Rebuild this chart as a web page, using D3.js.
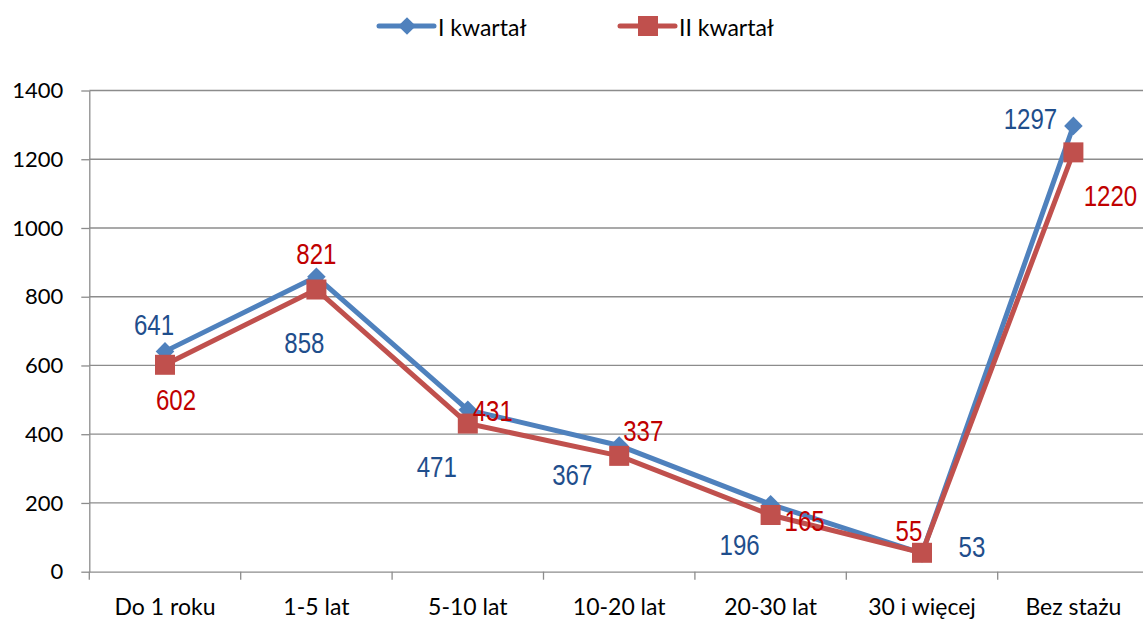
<!DOCTYPE html>
<html><head><meta charset="utf-8">
<script src="https://cdn.jsdelivr.net/npm/d3@7"></script>
<style>body{margin:0;background:#fff;} svg{display:block;}</style>
</head><body>
<svg id="chart" width="1143" height="619"></svg>
<script>
const categories = ["Do 1 roku","1-5 lat","5-10 lat","10-20 lat","20-30 lat","30 i więcej","Bez stażu"];
const seriesNames = ["I kwartał","II kwartał"];
const q1 = [641, 858, 471, 367, 196, 53, 1297];
const q2 = [602, 821, 431, 337, 165, 55, 1220];
const yTicks = [0,200,400,600,800,1000,1200,1400];
// label offsets (px) relative to point
const q1LabelOff = [[-11,-26],[-12,66],[-31,57],[-47,30],[-31,41],[50,-6],[-43,-7]];
const q2LabelOff = [[11,35],[0,-35],[25,-12],[24,-25],[34,6],[-13,-22],[37,44]];

(function(){
const svg = d3.select("#chart");
const pLeft = 89.3, pRight = 89.3 + 7*151.4, pTop = 90.5, pBottom = 571.7;
const x = d3.scaleBand().domain(categories).range([pLeft, pRight]).padding(0);
const y = d3.scaleLinear().domain([0,1400]).range([pBottom, pTop]);
const cx = c => x(c) + x.bandwidth()/2;
const font = "Lato, 'Open Sans', sans-serif";
const lblFont = "'Liberation Sans', Arial, sans-serif";

svg.append("g").selectAll("line").data(yTicks.filter(d=>d>0)).join("line")
  .attr("x1", pLeft).attr("x2", 1143).attr("y1", d=>y(d)).attr("y2", d=>y(d))
  .attr("stroke", "#8c8c8c").attr("stroke-width", 1.3);

const yAxis = svg.append("g").attr("transform", `translate(${pLeft},0)`)
  .call(d3.axisLeft(y).tickValues(yTicks).tickFormat(d3.format("d")).tickSize(8).tickPadding(18).tickSizeOuter(0));
yAxis.select(".domain").attr("stroke", "#8c8c8c").attr("stroke-width", 1.3);
yAxis.selectAll(".tick line").attr("stroke", "#8c8c8c").attr("stroke-width", 1.3);
yAxis.selectAll("text").attr("font-family", font).attr("font-size", 22).attr("fill", "#000");

const xAxis = svg.append("g").attr("transform", `translate(0,${pBottom})`)
  .call(d3.axisBottom(x).tickSize(0).tickPadding(27));
xAxis.select(".domain").attr("stroke", "#8c8c8c").attr("stroke-width", 1.3);
xAxis.selectAll("text").attr("font-family", font).attr("font-size", 23).attr("fill", "#000");
svg.append("g").selectAll("line").data(d3.range(categories.length+1)).join("line")
  .attr("x1", i=>pLeft + i*x.bandwidth()).attr("x2", i=>pLeft + i*x.bandwidth())
  .attr("y1", pBottom).attr("y2", pBottom+8)
  .attr("stroke", "#8c8c8c").attr("stroke-width", 1.3);

const line = d3.line().x((d,i)=>cx(categories[i])).y(d=>y(d));
const blue = "#4F81BD", red = "#C0504D";

svg.append("path").datum(q1).attr("d", line).attr("fill","none")
  .attr("stroke", blue).attr("stroke-width", 5).attr("stroke-linejoin","round");
svg.append("g").selectAll("path").data(q1).join("path")
  .attr("d", d3.symbol(d3.symbolDiamond2, 220)())
  .attr("transform", (d,i)=>`translate(${cx(categories[i])},${y(d)})`)
  .attr("fill", blue);

svg.append("path").datum(q2).attr("d", line).attr("fill","none")
  .attr("stroke", red).attr("stroke-width", 5).attr("stroke-linejoin","round");
svg.append("g").selectAll("rect").data(q2).join("rect")
  .attr("x", (d,i)=>cx(categories[i])-10).attr("y", d=>y(d)-10)
  .attr("width", 20).attr("height", 20).attr("fill", red);

function labels(data, off, color) {
  svg.append("g").selectAll("text").data(data).join("text")
    .attr("transform", (d,i)=>`translate(${cx(categories[i]) + off[i][0]},${y(d) + off[i][1]}) scale(0.83,1)`)
    .attr("text-anchor","middle").attr("dominant-baseline","central")
    .attr("font-family", lblFont).attr("font-size", 29).attr("fill", color)
    .text(d=>d);
}
labels(q1, q1LabelOff, "#1F4E8C");
labels(q2, q2LabelOff, "#C00000");

const legend = svg.append("g");
const legItems = [{name: seriesNames[0], color: blue, x0: 379, shape: "diamond"},
                  {name: seriesNames[1], color: red, x0: 620, shape: "square"}];
legItems.forEach(it => {
  const g = legend.append("g");
  g.append("line").attr("x1", it.x0).attr("x2", it.x0+55).attr("y1", 26).attr("y2", 26)
    .attr("stroke", it.color).attr("stroke-width", 5).attr("stroke-linecap","round");
  if (it.shape === "diamond") {
    g.append("path").attr("d", d3.symbol(d3.symbolDiamond2, 200)())
      .attr("transform", `translate(${it.x0+28},26)`).attr("fill", it.color);
  } else {
    g.append("rect").attr("x", it.x0+18).attr("y", 16).attr("width", 20).attr("height", 20).attr("fill", it.color);
  }
  g.append("text").attr("x", it.x0+59).attr("y", 27).attr("dominant-baseline","central")
    .attr("font-family", font).attr("font-size", 23).attr("fill", "#000").text(it.name);
});
})();
</script>
</body></html>
